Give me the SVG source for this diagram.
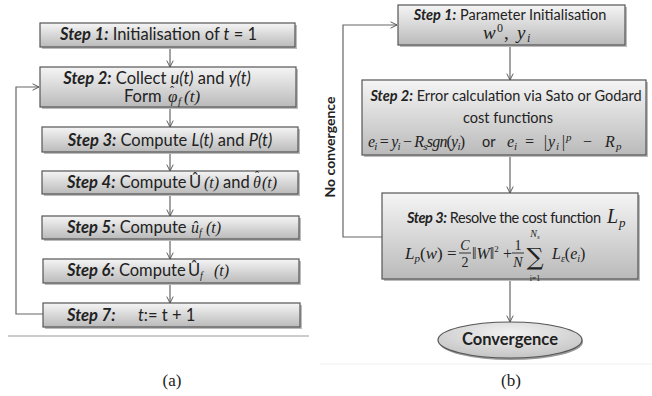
<svg xmlns="http://www.w3.org/2000/svg" width="652" height="396" viewBox="0 0 652 396">
<defs>
<linearGradient id="g" x1="0" y1="0" x2="0" y2="1">
<stop offset="0" stop-color="#f5f5f5"/>
<stop offset="1" stop-color="#bababa"/>
</linearGradient>
<radialGradient id="ge" cx="0.5" cy="0.3" r="0.7">
<stop offset="0" stop-color="#f2f2f2"/>
<stop offset="1" stop-color="#c4c4c4"/>
</radialGradient>
<marker id="a" viewBox="0 0 10 10" refX="9" refY="5" markerWidth="8" markerHeight="8" orient="auto" markerUnits="userSpaceOnUse">
<polyline points="1,1 9,5 1,9" fill="none" stroke="#555" stroke-width="1.2"/>
</marker>
</defs>
<style>
.box{fill:url(#g);stroke:#555;stroke-width:1.2}
.sh{fill:#bcbcbc}
.t{font-family:Lato,"Open Sans",sans-serif;font-size:16.5px;fill:#222}
.r{font-size:14.5px}
.b{font-weight:bold;font-style:italic}
.m{font-family:"Liberation Serif","DejaVu Serif",serif;font-style:italic;fill:#222}
.u{font-family:"Liberation Serif","DejaVu Serif",serif;fill:#222}
.c{stroke:#666;stroke-width:1.2;fill:none}
.cap{font-family:"Liberation Serif",serif;font-size:17px;fill:#222}
</style>
<rect width="652" height="396" fill="#fff"/>
<g id="connectors">
<line class="c" x1="170" y1="47" x2="170" y2="67" marker-end="url(#a)"/>
<line class="c" x1="170" y1="107" x2="170" y2="127" marker-end="url(#a)"/>
<line class="c" x1="170" y1="152" x2="170" y2="171" marker-end="url(#a)"/>
<line class="c" x1="170" y1="194" x2="170" y2="216" marker-end="url(#a)"/>
<line class="c" x1="170" y1="239" x2="170" y2="259" marker-end="url(#a)"/>
<line class="c" x1="170" y1="283" x2="170" y2="303" marker-end="url(#a)"/>
<polyline class="c" points="43,314 16,314 16,87 39,87" marker-end="url(#a)"/>
<line class="c" x1="510" y1="45" x2="510" y2="80" marker-end="url(#a)"/>
<line class="c" x1="510" y1="155" x2="510" y2="193" marker-end="url(#a)"/>
<line class="c" x1="510" y1="279" x2="510" y2="322" marker-end="url(#a)"/>
<polyline class="c" points="382,237 343,237 343,25 397,25" marker-end="url(#a)"/>
</g>
<line x1="8" y1="336" x2="309" y2="336" stroke="#999" stroke-width="1"/>
<line x1="320" y1="364" x2="652" y2="364" stroke="#f0f0f0" stroke-width="1"/>
<g id="a1">
<rect class="sh" x="42" y="25" width="255" height="24"/>
<rect class="box" x="40" y="23" width="255" height="24"/>
<text class="t" x="60" y="40"><tspan class="b">Step 1:</tspan> Initialisation of <tspan font-style="italic">t</tspan> = 1</text>
</g>
<g id="a2">
<rect class="sh" x="42" y="69" width="256" height="40"/>
<rect class="box" x="40" y="67" width="256" height="40"/>
<text class="t" x="157" y="84" text-anchor="middle"><tspan class="b">Step 2:</tspan> Collect <tspan font-style="italic">u(t)</tspan> and <tspan font-style="italic">y(t)</tspan></text>
<text class="t" x="124" y="102">Form</text>
<text class="m" x="168" y="102" font-size="17px">φ</text>
<text class="u" x="170" y="95" font-size="12px">ˆ</text>
<text class="m" x="178" y="105" font-size="11px">f</text>
<text class="m" x="184" y="102" font-size="17px">(t)</text>
</g>
<g id="a3">
<rect class="sh" x="44" y="129" width="256" height="25"/>
<rect class="box" x="42" y="127" width="256" height="25"/>
<text class="t" x="170" y="146" text-anchor="middle"><tspan class="b">Step 3:</tspan> Compute <tspan font-style="italic">L(t)</tspan> and <tspan font-style="italic">P(t)</tspan></text>
</g>
<g id="a4">
<rect class="sh" x="44" y="173" width="256" height="23"/>
<rect class="box" x="42" y="171" width="256" height="23"/>
<text class="t" x="67" y="188"><tspan class="b">Step 4:</tspan> Compute</text>
<text class="t" x="189" y="188">Û</text>
<text class="m" x="204" y="188" font-size="16px">(t)</text>
<text class="t" x="223" y="188">and</text>
<text class="m" x="253" y="188" font-size="16px">θ</text>
<text class="u" x="255" y="180" font-size="12px">ˆ</text>
<text class="m" x="262" y="188" font-size="16px">(t)</text>
</g>
<g id="a5">
<rect class="sh" x="44" y="218" width="257" height="23"/>
<rect class="box" x="42" y="216" width="257" height="23"/>
<text class="t" x="67" y="233"><tspan class="b">Step 5:</tspan> Compute</text>
<text class="m" x="191" y="233" font-size="16px">û</text>
<text class="m" x="199" y="236" font-size="10px">f</text>
<text class="m" x="206" y="233" font-size="16px">(t)</text>
</g>
<g id="a6">
<rect class="sh" x="45" y="261" width="256" height="24"/>
<rect class="box" x="43" y="259" width="256" height="24"/>
<text class="t" x="67" y="276"><tspan class="b">Step 6:</tspan> Compute</text>
<text class="t" x="188" y="276">Û</text>
<text class="m" x="200" y="279" font-size="10px">f</text>
<text class="m" x="214" y="276" font-size="16px">(t)</text>
</g>
<g id="a7">
<rect class="sh" x="45" y="305" width="257" height="24"/>
<rect class="box" x="43" y="303" width="257" height="24"/>
<text class="t" x="67" y="321"><tspan class="b">Step 7:</tspan></text>
<text class="t" x="138" y="321"><tspan font-style="italic">t</tspan>:= t + 1</text>
</g>
<text class="cap" x="172" y="386" text-anchor="middle">(a)</text>
<g id="b1">
<rect class="sh" x="400" y="7" width="227" height="40"/>
<rect class="box" x="398" y="5" width="227" height="40"/>
<text class="t r" x="510" y="20" text-anchor="middle"><tspan class="b">Step 1:</tspan> Parameter Initialisation</text>
<text class="m" x="483" y="39" font-size="19px">w</text>
<text class="u" x="497" y="32" font-size="12px">0</text>
<text class="u" x="504" y="39" font-size="19px">,</text>
<text class="m" x="517" y="39" font-size="19px">y</text>
<text class="m" x="527" y="42" font-size="12px">i</text>
</g>
<g id="b2">
<rect class="sh" x="364" y="82" width="284" height="75"/>
<rect class="box" x="362" y="80" width="284" height="75"/>
<text class="t r" x="506" y="101" text-anchor="middle"><tspan class="b">Step 2:</tspan> Error calculation via Sato or Godard</text>
<text class="t r" x="508" y="123" text-anchor="middle">cost functions</text>
<text class="m" x="368" y="147" font-size="16px" textLength="97">e<tspan font-size="11px" dy="3">i</tspan><tspan dy="-3" class="u" font-style="normal"> = </tspan><tspan>y</tspan><tspan font-size="11px" dy="3">i</tspan><tspan dy="-3" font-style="normal"> − </tspan><tspan>R</tspan><tspan font-size="11px" dy="3">s</tspan><tspan dy="-3">sgn</tspan><tspan font-style="normal">(</tspan><tspan>y</tspan><tspan font-size="11px" dy="3">i</tspan><tspan dy="-3" font-style="normal">)</tspan></text>
<text class="t r" x="482" y="147">or</text>
<g class="m" font-size="16px">
<text x="507" y="147">e</text>
<text x="514" y="150" font-size="11px">i</text>
<text class="u" x="524" y="147">=</text>
<text class="u" x="543" y="147">|</text>
<text x="548" y="147">y</text>
<text x="556" y="150" font-size="11px">i</text>
<text class="u" x="561" y="147">|</text>
<text x="566" y="141" font-size="11px">p</text>
<text class="u" x="582" y="147">−</text>
<text x="605" y="147">R</text>
<text x="616" y="150" font-size="11px">p</text>
</g>
</g>
<g id="b3">
<rect class="sh" x="384" y="195" width="256" height="86"/>
<rect class="box" x="382" y="193" width="256" height="86"/>
<text class="t r" x="407" y="223" textLength="194"><tspan class="b">Step 3:</tspan> Resolve the cost function</text>
<text class="m" x="607" y="223" font-size="20px">L</text>
<text class="m" x="619" y="227" font-size="13px">p</text>
<text class="m" x="405" y="259" font-size="17px">L<tspan font-size="11px" dy="3">p</tspan><tspan dy="-3" font-style="normal">(</tspan><tspan>w</tspan><tspan font-style="normal">) =</tspan></text>
<text class="m" x="465" y="250" font-size="14px" text-anchor="middle">C</text>
<line x1="459" y1="253" x2="471" y2="253" stroke="#222" stroke-width="0.9"/>
<text class="u" x="465" y="267" font-size="14px" text-anchor="middle">2</text>
<text class="u" x="472" y="259" font-size="16px">‖<tspan class="m">W</tspan>‖<tspan font-size="9px" dy="-7">2</tspan></text>
<text class="u" x="503" y="259" font-size="16px">+</text>
<text class="u" x="518" y="250" font-size="14px" text-anchor="middle">1</text>
<line x1="512" y1="253" x2="524" y2="253" stroke="#222" stroke-width="0.9"/>
<text class="m" x="518" y="267" font-size="14px" text-anchor="middle">N</text>
<text x="535" y="265" font-family="'DejaVu Serif',serif" font-size="24px" text-anchor="middle" fill="#222">∑</text>
<text class="m" x="535" y="237" font-size="10px" text-anchor="middle">N<tspan font-size="7px" dy="2">s</tspan></text>
<text class="u" x="535" y="281" font-size="8px" text-anchor="middle">i=1</text>
<text class="m" x="552" y="259" font-size="16px">L<tspan font-size="10px" dy="3">ε</tspan><tspan dy="-3" font-style="normal">(</tspan><tspan>e</tspan><tspan font-size="10px" dy="3">i</tspan><tspan dy="-3" font-style="normal">)</tspan></text>
</g>
<g id="b4">
<ellipse cx="511" cy="342" rx="72" ry="18" fill="#9a9a9a"/>
<ellipse cx="510" cy="340" rx="72" ry="18" fill="url(#ge)" stroke="#555" stroke-width="1.2"/>
<text class="t" x="510" y="345" font-size="15px" font-weight="bold" text-anchor="middle">Convergence</text>
</g>
<text x="335" y="147" transform="rotate(-90 335 147)" font-family="Lato,sans-serif" font-weight="bold" font-size="14px" fill="#222" text-anchor="middle">No convergence</text>
<text class="cap" x="511" y="386" text-anchor="middle">(b)</text>
</svg>
